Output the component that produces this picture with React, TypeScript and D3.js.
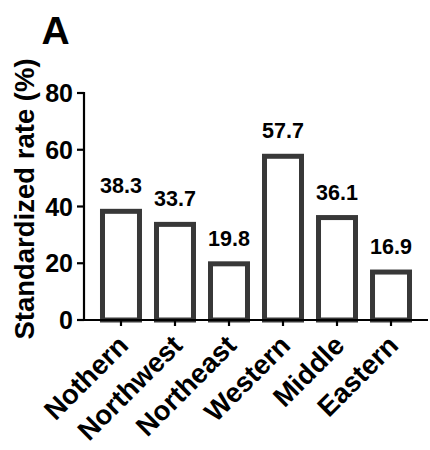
import React from "react";
import * as d3 from "d3";

const categories = ["Nothern", "Northwest", "Northeast", "Western", "Middle", "Eastern"];
const values = [38.3, 33.7, 19.8, 57.7, 36.1, 16.9];
const yTicks = [0, 20, 40, 60, 80];
const yTitle = "Standardized rate (%)";
const panelLabel = "A";

const FONT = "'Liberation Sans', Arial, Helvetica, sans-serif";

export default function App() {
  const W = 430, H = 450;
  const x0 = 84, x1 = 428, yTop = 93, yBot = 320;
  const x = d3.scaleBand<string>().domain(categories).range([x0, x1]).paddingInner(0.315).paddingOuter(0.3425);
  const y = d3.scaleLinear().domain([0, 80]).range([yBot, yTop]);
  const bw = x.bandwidth();
  return (
    <svg width={W} height={H} style={{ position: "absolute", left: 0, top: 0, background: "#fff" }} fontFamily={FONT}>
      <text x={41.5} y={43.5} fontSize={39} fontWeight="bold" fill="#000">{panelLabel}</text>
      <text transform={`translate(33.5,199) rotate(-90)`} textAnchor="middle" fontSize={27.5} fontWeight="bold" fill="#000">{yTitle}</text>
      {values.map((v, i) => {
        const c = categories[i];
        const bx = x(c)!;
        return (
          <g key={c}>
            <rect x={bx} y={y(v)} width={bw} height={yBot - y(v)} fill="#fff" stroke="#383838" strokeWidth={5} />
            <text x={bx + bw / 2} y={y(v) - 18} textAnchor="middle" fontSize={21.5} fontWeight="bold" fill="#000">{v.toFixed(1)}</text>
          </g>
        );
      })}
      {/* y axis */}
      <line x1={x0} x2={x0} y1={yTop - 1} y2={yBot + 1} stroke="#000" strokeWidth={2.2} />
      {yTicks.map(t => (
        <g key={t}>
          <line x1={x0 - 7} x2={x0} y1={y(t)} y2={y(t)} stroke="#000" strokeWidth={2.2} />
          <text x={x0 - 11} y={y(t)} dy="0.36em" textAnchor="end" fontSize={25} fontWeight="bold" fill="#000">{t}</text>
        </g>
      ))}
      {/* x axis */}
      <line x1={x0 - 1} x2={x1} y1={yBot} y2={yBot} stroke="#000" strokeWidth={2.2} />
      {categories.map(c => {
        const cx = x(c)! + bw / 2;
        return (
          <g key={c}>
            <line x1={cx} x2={cx} y1={yBot} y2={yBot + 6} stroke="#000" strokeWidth={2.2} />
            <text transform={`translate(${cx + 9},347) rotate(-45)`} textAnchor="end" fontSize={27.5} fontWeight="bold" fill="#000">{c}</text>
          </g>
        );
      })}
    </svg>
  );
}
